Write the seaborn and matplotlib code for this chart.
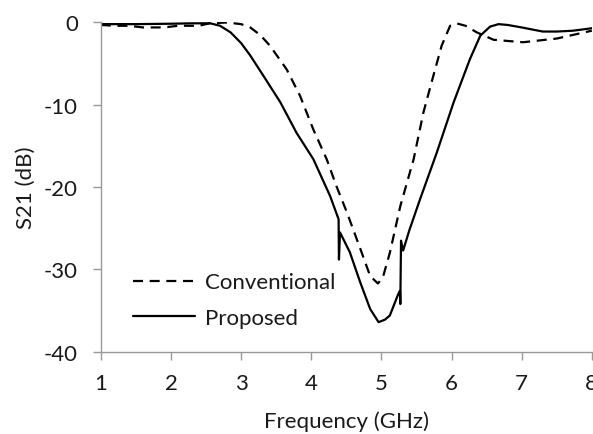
import numpy as np
import pandas as pd
import matplotlib
matplotlib.use("Agg")
import matplotlib.pyplot as plt
import seaborn as sns

# values
conv_freq = [1.0, 1.2, 1.4, 1.6, 1.9, 2.1, 2.4, 2.55, 2.8, 3.0, 3.13, 3.27, 3.41,
             3.65, 3.84, 4.03, 4.22, 4.36, 4.51, 4.70, 4.84, 4.95, 5.02, 5.12,
             5.27, 5.46, 5.60, 5.74, 5.86, 5.98, 6.07, 6.2, 6.36, 6.60, 7.02,
             7.50, 8.0]
conv_s21 = [-0.3, -0.4, -0.4, -0.6, -0.6, -0.4, -0.4, -0.1, 0.0, -0.2, -0.6, -1.5,
            -2.8, -5.7, -8.9, -13.0, -16.6, -19.9, -23.1, -27.5, -30.8, -31.7,
            -31.0, -28.0, -22.3, -16.6, -10.9, -6.5, -2.8, -0.4, -0.1, -0.4,
            -1.2, -2.1, -2.4, -1.95, -1.0]

prop_freq = [1.0, 1.5, 2.0, 2.3, 2.56, 2.7, 2.85, 3.0, 3.13, 3.32, 3.56, 3.79,
             4.03, 4.27, 4.39, 4.395, 4.41, 4.55, 4.70, 4.84, 4.96, 5.05, 5.12,
             5.24, 5.265, 5.27, 5.28, 5.31, 5.40, 5.55, 5.79, 6.03, 6.26, 6.41,
             6.55, 6.67, 6.8, 7.0, 7.3, 7.5, 7.73, 8.0]
prop_s21 = [-0.2, -0.2, -0.15, -0.1, -0.1, -0.4, -1.2, -2.5, -4.0, -6.5, -9.7,
            -13.4, -16.6, -21.1, -23.9, -28.8, -25.5, -27.9, -31.6, -34.8,
            -36.4, -36.1, -35.6, -33.0, -32.6, -34.2, -26.5, -27.7, -25.2,
            -21.5, -15.8, -9.7, -4.5, -1.6, -0.5, -0.2, -0.3, -0.6, -1.1, -1.1,
            -1.0, -0.7]

x_ticks = [1, 2, 3, 4, 5, 6, 7, 8]
y_ticks = [-40, -30, -20, -10, 0]

sns.set_style("ticks")
plt.rcParams['font.family'] = ['Lato', 'DejaVu Sans']
plt.rcParams['axes.unicode_minus'] = False

fig = plt.figure(figsize=(5.93, 4.35), dpi=100)
ax = fig.add_axes([0.170, 0.189, 0.828, 0.757])

text_col = '#1a1a1a'
spine_col = '#999999'
fs = 16

sns.lineplot(x=conv_freq, y=conv_s21, ax=ax, color='black', linewidth=1.6,
             linestyle=(0, (4.5, 3.0)), sort=False, estimator=None,
             label='Conventional')
sns.lineplot(x=prop_freq, y=prop_s21, ax=ax, color='black', linewidth=1.6,
             sort=False, estimator=None, label='Proposed')

ax.set_xlim(1, 8)
ax.set_ylim(-40, 0)
ax.set_xticks(x_ticks)
ax.set_yticks(y_ticks)

sns.despine(ax=ax)
for side in ['left', 'bottom']:
    ax.spines[side].set_color(spine_col)
    ax.spines[side].set_linewidth(1.0)
ax.tick_params(axis='both', colors=spine_col, width=1.0, length=5.5,
               labelsize=fs, labelcolor=text_col, direction='out')
ax.tick_params(axis='x', pad=10)
ax.tick_params(axis='y', pad=11)

ax.set_xlabel('Frequency (GHz)', fontsize=fs, color=text_col, labelpad=12)
ax.set_ylabel('S21 (dB)', fontsize=fs, color=text_col, labelpad=6)

leg = ax.legend(loc='lower left', bbox_to_anchor=(0.042, 0.04), frameon=False,
                fontsize=fs, handlelength=2.8, handletextpad=0.45,
                labelspacing=0.68, borderpad=0)
for t in leg.get_texts():
    t.set_color(text_col)

fig.savefig('out.png', dpi=100)
plt.close(fig)
